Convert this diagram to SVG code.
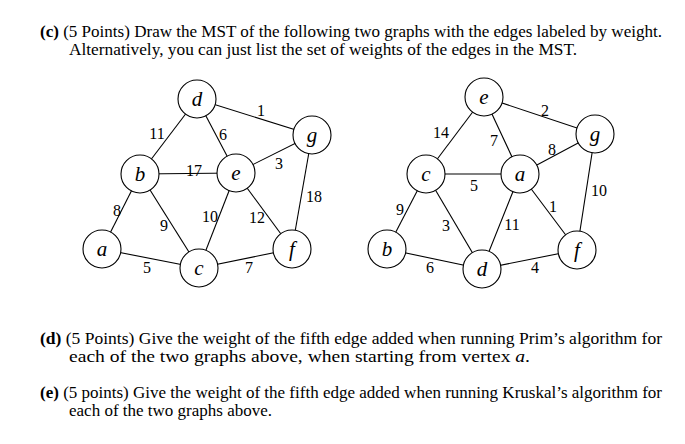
<svg xmlns="http://www.w3.org/2000/svg" width="685" height="444" viewBox="0 0 685 444">
<style>
text{font-family:"Liberation Serif",serif;font-size:16px;fill:#000}
.n circle{fill:#fff;stroke:#000;stroke-width:1.1}
.n text{font-size:21px;font-style:italic;text-anchor:middle}
.w{text-anchor:middle;font-size:16px}
#edges line{stroke:#000;stroke-width:1.1}
</style>
<rect width="685" height="444" fill="#fff"/>
<text x="40" y="37" textLength="622" lengthAdjust="spacingAndGlyphs"><tspan font-weight="bold">(c)</tspan> (5 Points) Draw the MST of the following two graphs with the edges labeled by weight.</text>
<text x="69" y="55" textLength="508" lengthAdjust="spacingAndGlyphs">Alternatively, you can just list the set of weights of the edges in the MST.</text>
<text x="40" y="344" textLength="622" lengthAdjust="spacingAndGlyphs"><tspan font-weight="bold">(d)</tspan> (5 Points) Give the weight of the fifth edge added when running Prim’s algorithm for</text>
<text x="69" y="362" textLength="461" lengthAdjust="spacingAndGlyphs">each of the two graphs above, when starting from vertex <tspan font-style="italic">a</tspan>.</text>
<text x="40" y="398" textLength="622" lengthAdjust="spacingAndGlyphs"><tspan font-weight="bold">(e)</tspan> (5 points) Give the weight of the fifth edge added when running Kruskal’s algorithm for</text>
<text x="69" y="416" textLength="203" lengthAdjust="spacingAndGlyphs">each of the two graphs above.</text>
<g id="edges">
<line x1="197" y1="99" x2="312" y2="135"/><line x1="197" y1="99" x2="140" y2="174"/><line x1="197" y1="99" x2="236" y2="173"/>
<line x1="140" y1="174" x2="236" y2="173"/><line x1="236" y1="173" x2="312" y2="135"/><line x1="140" y1="174" x2="102" y2="249"/>
<line x1="140" y1="174" x2="199" y2="268"/><line x1="236" y1="173" x2="199" y2="268"/><line x1="236" y1="173" x2="292" y2="249"/>
<line x1="312" y1="135" x2="292" y2="249"/><line x1="102" y1="249" x2="199" y2="268"/><line x1="199" y1="268" x2="292" y2="249"/>
<line x1="484" y1="97" x2="595" y2="134"/><line x1="484" y1="97" x2="426" y2="174"/><line x1="484" y1="97" x2="520" y2="174"/>
<line x1="426" y1="174" x2="520" y2="174"/><line x1="520" y1="174" x2="595" y2="134"/><line x1="426" y1="174" x2="387" y2="249"/>
<line x1="426" y1="174" x2="482" y2="269"/><line x1="520" y1="174" x2="482" y2="269"/><line x1="520" y1="174" x2="577" y2="250"/>
<line x1="595" y1="134" x2="577" y2="250"/><line x1="387" y1="249" x2="482" y2="269"/><line x1="482" y1="269" x2="577" y2="250"/>
</g>
<g>
<text class="w" x="157" y="139">11</text><text class="w" x="223" y="140">6</text><text class="w" x="261" y="116">1</text>
<text class="w" x="279" y="169">3</text><text class="w" x="194" y="176">17</text><text class="w" x="117" y="216">8</text>
<text class="w" x="164" y="231">9</text><text class="w" x="210" y="222">10</text><text class="w" x="257" y="223">12</text>
<text class="w" x="314" y="202">18</text><text class="w" x="147" y="273">5</text><text class="w" x="249" y="273">7</text>
<text class="w" x="441" y="138">14</text><text class="w" x="494" y="146">7</text><text class="w" x="545" y="116">2</text>
<text class="w" x="552" y="155">8</text><text class="w" x="474" y="191">5</text><text class="w" x="400" y="215">9</text>
<text class="w" x="446" y="231">3</text><text class="w" x="512" y="230">11</text><text class="w" x="553" y="212">1</text>
<text class="w" x="599" y="196">10</text><text class="w" x="430" y="273">6</text><text class="w" x="535" y="273">4</text>
</g>
<g id="L-d" class="n"><circle cx="197" cy="99" r="19"/><text x="197" y="106">d</text></g>
<g id="L-g" class="n"><circle cx="312" cy="135" r="19"/><text x="312" y="142">g</text></g>
<g id="L-b" class="n"><circle cx="140" cy="174" r="19"/><text x="140" y="181">b</text></g>
<g id="L-e" class="n"><circle cx="236" cy="173" r="19"/><text x="236" y="180">e</text></g>
<g id="L-a" class="n"><circle cx="102" cy="249" r="19"/><text x="102" y="256">a</text></g>
<g id="L-c" class="n"><circle cx="199" cy="268" r="19"/><text x="199" y="275">c</text></g>
<g id="L-f" class="n"><circle cx="292" cy="249" r="19"/><text x="292" y="256">f</text></g>
<g id="R-e" class="n"><circle cx="484" cy="97" r="19"/><text x="484" y="104">e</text></g>
<g id="R-g" class="n"><circle cx="595" cy="134" r="19"/><text x="595" y="141">g</text></g>
<g id="R-c" class="n"><circle cx="426" cy="174" r="19"/><text x="426" y="181">c</text></g>
<g id="R-a" class="n"><circle cx="520" cy="174" r="19"/><text x="520" y="181">a</text></g>
<g id="R-b" class="n"><circle cx="387" cy="249" r="19"/><text x="387" y="256">b</text></g>
<g id="R-d" class="n"><circle cx="482" cy="269" r="19"/><text x="482" y="276">d</text></g>
<g id="R-f" class="n"><circle cx="577" cy="250" r="19"/><text x="577" y="257">f</text></g>
</svg>
